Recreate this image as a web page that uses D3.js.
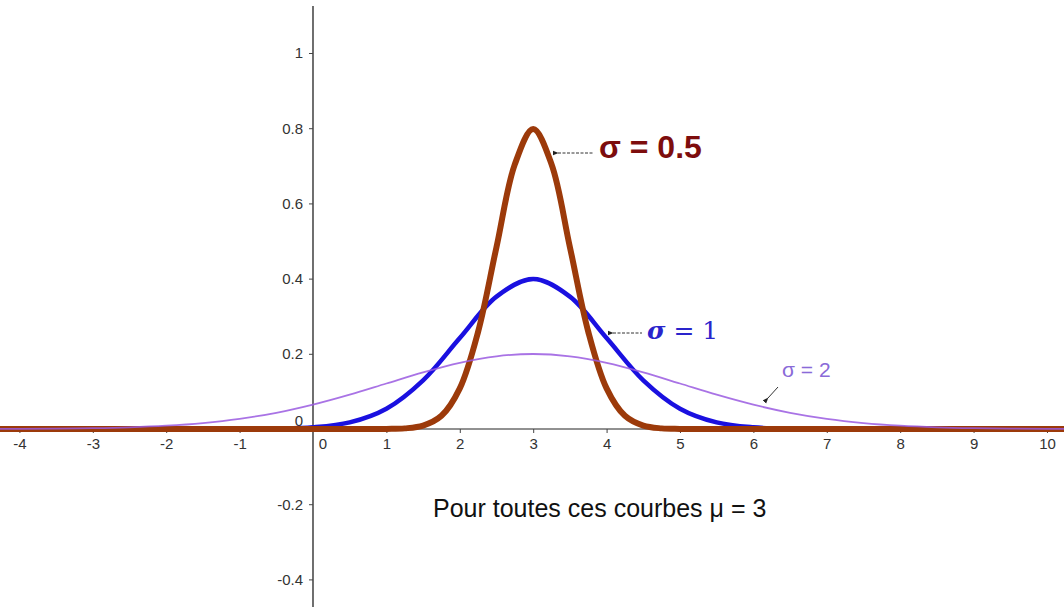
<!DOCTYPE html>
<html>
<head>
<meta charset="utf-8">
<script src="https://cdn.jsdelivr.net/npm/d3@7"></script>
<style>
  body { margin: 0; background: #fff; }
  svg { display: block; font-family: Arial, "Liberation Sans", sans-serif; }
</style>
</head>
<body>
<svg id="chart"></svg>
<script>
const width = 1064;
const height = 607;

// x ticks and y ticks as shown on the axes
const xTicks = [-4, -3, -2, -1, 1, 2, 3, 4, 5, 6, 7, 8, 9, 10];
const yTicks = [-0.4, -0.2, 0.2, 0.4, 0.6, 0.8, 1];

// points, [x, y]
const sigmaHalf = [
  [-4.5, 0], [0.5, 0], [1, 0.0003], [1.25, 0.0017], [1.5, 0.009], [1.75, 0.035],
  [2, 0.108], [2.25, 0.259], [2.5, 0.484], [2.75, 0.704], [3, 0.798],
  [3.25, 0.704], [3.5, 0.484], [3.75, 0.259], [4, 0.108], [4.25, 0.035],
  [4.5, 0.009], [4.75, 0.0017], [5, 0.0003], [5.5, 0], [10.5, 0]
];
const sigmaOne = [
  [-4.5, 0], [-1, 0], [-0.5, 0.0009], [0, 0.0044], [0.5, 0.0175], [1, 0.054],
  [1.5, 0.1295], [2, 0.242], [2.5, 0.352], [3, 0.399], [3.5, 0.352],
  [4, 0.242], [4.5, 0.1295], [5, 0.054], [5.5, 0.0175], [6, 0.0044],
  [6.5, 0.0009], [7, 0], [10.5, 0]
];
const sigmaTwo = [
  [-4.5, 0.0001], [-4, 0.0004], [-3.5, 0.001], [-3, 0.0022], [-2.5, 0.0045],
  [-2, 0.0088], [-1.5, 0.0159], [-1, 0.027], [-0.5, 0.0431], [0, 0.0648],
  [0.5, 0.0913], [1, 0.121], [1.5, 0.1506], [2, 0.176], [2.5, 0.1933],
  [3, 0.1995], [3.5, 0.1933], [4, 0.176], [4.5, 0.1506], [5, 0.121],
  [5.5, 0.0913], [6, 0.0648], [6.5, 0.0431], [7, 0.027], [7.5, 0.0159],
  [8, 0.0088], [8.5, 0.0045], [9, 0.0022], [9.5, 0.001], [10, 0.0004],
  [10.5, 0.0001]
];

const svg = d3.select('#chart')
  .attr('width', width)
  .attr('height', height);

const x = d3.scaleLinear().domain([-4.2644, 10.232]).range([0, width]);
const y = d3.scaleLinear().domain([-0.4734, 1.141]).range([height, 0]);

const fmt = d => String(d).replace('−', '-');

// axes
svg.append('line')
  .attr('x1', 0).attr('x2', width)
  .attr('y1', y(0)).attr('y2', y(0))
  .attr('stroke', '#222').attr('stroke-width', 1);
svg.append('line')
  .attr('x1', x(0)).attr('x2', x(0))
  .attr('y1', 6).attr('y2', height)
  .attr('stroke', '#222').attr('stroke-width', 1.3);

const xAxis = svg.append('g')
  .attr('transform', `translate(0, ${y(0)})`)
  .call(d3.axisBottom(x).tickValues(xTicks).tickSize(4).tickPadding(5).tickFormat(fmt));
xAxis.select('.domain').remove();

const yAxis = svg.append('g')
  .attr('transform', `translate(${x(0)}, 0)`)
  .call(d3.axisLeft(y).tickValues(yTicks).tickSize(4).tickPadding(6).tickFormat(fmt));
yAxis.select('.domain').remove();

svg.selectAll('.tick text')
  .attr('font-size', 15)
  .attr('font-family', 'Arial, "Liberation Sans", sans-serif')
  .attr('fill', '#333');
svg.selectAll('.tick line').attr('stroke', '#444');

// origin labels
svg.append('text')
  .attr('x', x(0) - 10).attr('y', y(0) - 3)
  .attr('font-size', 15).attr('fill', '#333').attr('text-anchor', 'end')
  .text('0');
svg.append('text')
  .attr('x', x(0) + 10).attr('y', y(0) + 20)
  .attr('font-size', 15).attr('fill', '#333').attr('text-anchor', 'middle')
  .text('0');

const line = d3.line()
  .x(d => x(d[0]))
  .y(d => y(d[1]))
  .curve(d3.curveCatmullRom);

svg.append('path')
  .datum(sigmaOne)
  .attr('fill', 'none')
  .attr('stroke', '#1a10e0')
  .attr('stroke-width', 4.5)
  .attr('d', line);

svg.append('path')
  .datum(sigmaHalf)
  .attr('fill', 'none')
  .attr('stroke', '#9c3a0a')
  .attr('stroke-width', 6)
  .attr('d', line);

svg.append('path')
  .datum(sigmaTwo)
  .attr('fill', 'none')
  .attr('stroke', '#9a5ae0')
  .attr('stroke-width', 1.8)
  .attr('stroke-opacity', 0.85)
  .attr('d', line);

// arrowheads
const defs = svg.append('defs');
defs.append('marker')
  .attr('id', 'arrow')
  .attr('viewBox', '0 0 10 10')
  .attr('refX', 1).attr('refY', 5)
  .attr('markerWidth', 6).attr('markerHeight', 6)
  .attr('orient', 'auto-start-reverse')
  .append('path')
  .attr('d', 'M10,1 L0,5 L10,9 Z')
  .attr('fill', '#222');

function arrow(x1, y1, x2, y2, dash) {
  svg.append('line')
    .attr('x1', x1).attr('y1', y1)
    .attr('x2', x2).attr('y2', y2)
    .attr('stroke', '#333')
    .attr('stroke-width', 1)
    .attr('stroke-dasharray', dash)
    .attr('marker-start', 'url(#arrow)');
}

// annotations
arrow(558, 153, 594, 153, '3,1.5');
svg.append('text')
  .attr('x', 599).attr('y', 158)
  .attr('font-size', 32).attr('font-weight', 'bold')
  .attr('fill', '#7d0d0d')
  .text('σ = 0.5');

arrow(613, 333, 642, 333, '3,1.5');
const t1 = svg.append('text')
  .attr('x', 647).attr('y', 339)
  .attr('font-size', 25).attr('font-family', '"DejaVu Serif", serif')
  .attr('fill', '#2a24cc');
t1.append('tspan').attr('font-style', 'italic').attr('font-weight', 'bold').text('σ');
t1.append('tspan').text(' = 1');

arrow(768, 398, 778, 387, null);
svg.append('text')
  .attr('x', 782).attr('y', 377)
  .attr('font-size', 21)
  .attr('fill', '#8a6ad8')
  .text('σ = 2');

svg.append('text')
  .attr('x', 433).attr('y', 517)
  .attr('font-size', 25)
  .attr('fill', '#111')
  .text('Pour toutes ces courbes μ = 3');
</script>
</body>
</html>
